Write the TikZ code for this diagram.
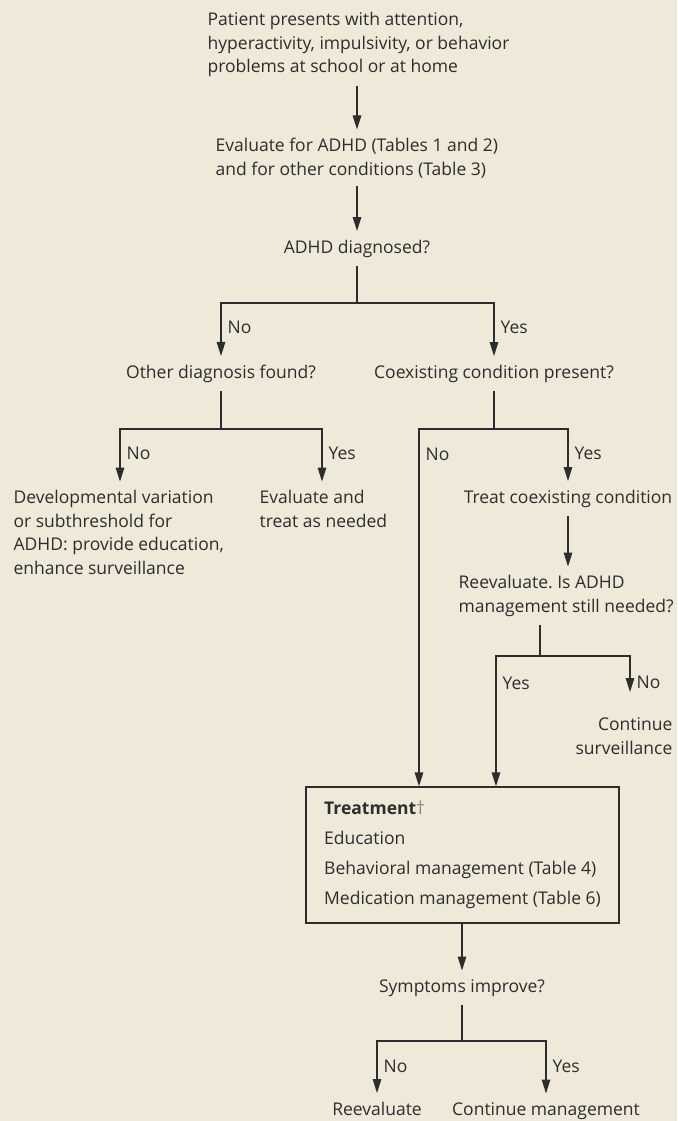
\documentclass[tikz,border=0pt]{standalone}
\usepackage{fontspec}
\setmainfont{Open Sans}
\frenchspacing
\usetikzlibrary{arrows.meta,positioning}
\definecolor{paper}{RGB}{239,233,217}
\definecolor{ink}{RGB}{45,45,45}

\begin{document}
\begin{tikzpicture}[x=1pt,y=-1pt,color=ink,line width=1.3pt,
  >={Triangle[length=14pt,width=8.5pt]},
  txt/.style={inner xsep=0pt,inner ysep=8pt,font=\fontsize{17.5}{23.5}\selectfont},
  lbl/.style={txt,inner ysep=1pt,right=6pt},
  box/.style={draw,minimum width=313pt,minimum height=136pt,inner xsep=16pt,align=left,font=\fontsize{17.5}{30}\selectfont}]
\useasboundingbox[fill=paper] (0,0) rectangle (677,1121);

\node[txt,align=left,anchor=base west] (present) at (207,73) {Patient presents with attention,\\hyperactivity, impulsivity, or behavior\\problems at school or at home};
\node[txt,align=left,anchor=base west] (evalx) at (215,175) {Evaluate for ADHD (Tables 1 and 2)\\and for other conditions (Table 3)};
\node[txt,anchor=base] (diag) at (357,253) {ADHD diagnosed?};
\node[txt,anchor=base] (other) at (221,378) {Other diagnosis found?};
\node[txt,anchor=base] (coex) at (494,378) {Coexisting condition present?};
\node[txt,align=left,anchor=base west] (devel) at (13,574) {Developmental variation\\or subthreshold for\\ADHD: provide education,\\enhance surveillance};
\node[txt,align=left,anchor=base west] (evtreat) at (259,527) {Evaluate and\\treat as needed};
\node[txt,anchor=base] (treatco) at (568,503) {Treat coexisting condition};
\node[txt,align=left,anchor=base west] (reeval) at (458,612) {Reevaluate. Is ADHD\\management still needed?};
\node[txt,inner ysep=25pt,align=right,anchor=base east] (contsurv) at (673,754) {Continue\\surveillance};
\node[box] (treat) at (462.5,855) {\textbf{Treatment}{\color{ink!60}\dag}\\Education\\Behavioral management (Table 4)\\Medication management (Table 6)};
\node[txt,anchor=base] (sympt) at (462,992) {Symptoms improve?};
\node[txt,anchor=base] (reevbot) at (377,1115) {Reevaluate};
\node[txt,anchor=base] (contman) at (546,1115) {Continue management};

%branch points
\coordinate (j1) at (357,303); \coordinate (j1l) at (221,303); \coordinate (j1r) at (494,303);
\coordinate (j2) at (221,429); \coordinate (j2l) at (120,429); \coordinate (j2r) at (322,429);
\coordinate (j3) at (494,429); \coordinate (j3l) at (419,429); \coordinate (j3r) at (568,429);
\coordinate (j4) at (540,656); \coordinate (j4l) at (496,656); \coordinate (j4r) at (630,656);
\coordinate (j5) at (462,1041); \coordinate (j5l) at (377,1041); \coordinate (j5r) at (546,1041);

\draw[->] (present.south -| diag.north) -- (evalx.north -| diag.north);
\draw[->] (evalx.south -| diag.north) -- (diag.north);
\draw (diag.south) -- (j1);
\draw[->] (j1) -- (j1l) -- (j1l |- other.north) node[lbl,pos=0.46] {No};
\draw[->] (j1) -- (j1r) -- (j1r |- coex.north) node[lbl,pos=0.46] {Yes};
%other diagnosis
\draw (other.south) -- (j2);
\draw[->] (j2) -- (j2l) -- (j2l |- devel.north) node[lbl,pos=0.47] {No};
\draw[->] (j2) -- (j2r) -- (j2r |- evtreat.north) node[lbl,pos=0.47] {Yes};
%coexisting condition
\draw (coex.south) -- (j3);
\draw[->] (j3) -- (j3l) -- (j3l |- treat.north) node[lbl,pos=0.07] {No};
\draw[->] (j3) -- (j3r) -- (j3r |- treatco.north) node[lbl,pos=0.47] {Yes};
\draw[->] (treatco.south) -- (treatco.south |- reeval.north);
\draw (reeval.south -| j4) -- (j4);
\draw[->] (j4) -- (j4l) -- (j4l |- treat.north) node[lbl,pos=0.21] {Yes};
\draw[->] (j4) -- (j4r) -- (j4r |- contsurv.north) node[lbl,pos=0.73] {No};
%treatment
\draw[->] (treat.south -| sympt.north) -- (sympt.north);
\draw (sympt.south) -- (j5);
\draw[->] (j5) -- (j5l) -- (j5l |- reevbot.north) node[lbl,pos=0.49] {No};
\draw[->] (j5) -- (j5r) -- (j5r |- contman.north) node[lbl,pos=0.49] {Yes};
\end{tikzpicture}
\end{document}
